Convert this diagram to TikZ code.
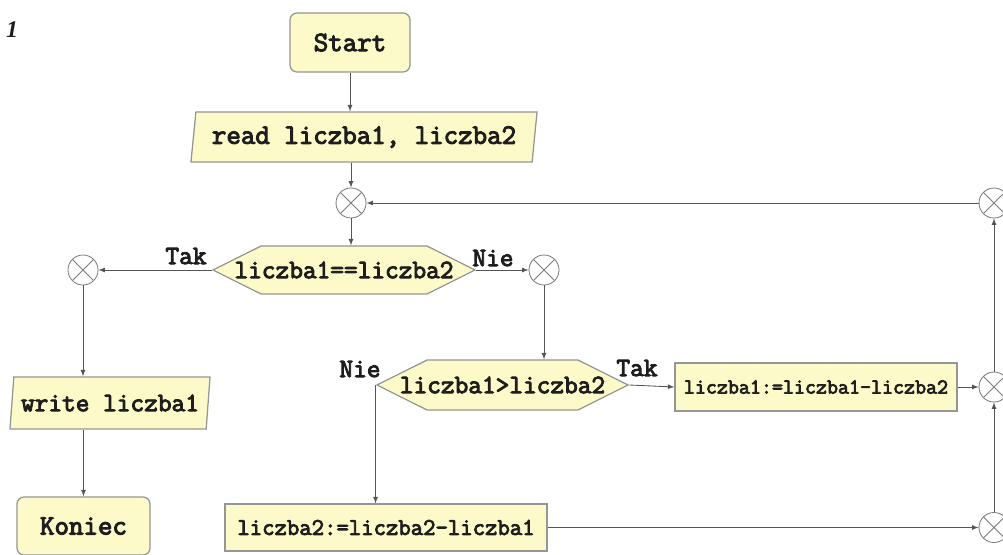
\documentclass[tikz,border=0pt]{standalone}
\usepackage{fontspec}
\setmainfont{Liberation Serif}
\setmonofont{Latin Modern Mono}[AutoFakeBold=3.5]
\usetikzlibrary{arrows, shapes.geometric, shapes.symbols}

\definecolor{boxfill}{RGB}{252,250,200}
\definecolor{boxline}{RGB}{150,150,150}
\definecolor{flowline}{RGB}{85,85,85}
\definecolor{jointline}{RGB}{125,125,125}
\definecolor{ink}{RGB}{30,30,30}

\newcommand{\wide}[1]{\makebox[0pt]{#1}}

\tikzset{
  box/.style={draw=boxline, fill=boxfill, line width=0.9pt, text=ink, inner sep=0pt},
  startstop/.style={box, rectangle, rounded corners=5pt, font=\ttfamily\bfseries\fontsize{20}{22}\selectfont},
  io/.style={box, trapezium, trapezium left angle=77, trapezium right angle=103, trapezium stretches body},
  decision/.style={box, signal, signal to=west and east, signal pointer angle=53, font=\ttfamily\bfseries\fontsize{18.9}{21}\selectfont},
  process/.style={box, rectangle},
  joint/.style={circle, draw=jointline, fill=white, line width=0.6pt, minimum size=0.75cm, inner sep=0pt,
    path picture={\draw[jointline, line width=0.6pt] (path picture bounding box.south west) -- (path picture bounding box.north east)
      (path picture bounding box.north west) -- (path picture bounding box.south east);}},
  branch/.style={text=ink, inner sep=0pt, font=\ttfamily\bfseries\fontsize{18.9}{21}\selectfont},
  flow/.style={draw=flowline, line width=0.6pt, ->}
}

\begin{document}
\begin{tikzpicture}[>=latex, x=0.025cm, y=0.025cm]

\useasboundingbox (0,0) rectangle (1003,554);

\node[text=ink, inner sep=0pt, font=\fontsize{17}{20}\selectfont] (nr) at (12,524) {\textbf{\textit{1}}};

% bloki
\node[startstop, minimum width=3cm, minimum height=1.475cm] (start) at (350,511.5) {Start};
\node[io, minimum width=8.65cm, minimum height=1.25cm, font=\ttfamily\bfseries\fontsize{20}{22}\selectfont] (read) at (364,417) {\wide{read liczba1, liczba2}};
\node[joint] (j1) at (351,351) {};
\node[decision, minimum width=6.55cm, minimum height=1.2cm] (cond1) at (344,284) {\wide{liczba1==liczba2}};
\node[joint] (jtak) at (83,284) {};
\node[joint] (jnie) at (544,284) {};
\node[io, minimum width=5cm, minimum height=1.3cm, font=\ttfamily\bfseries\fontsize{18.9}{21}\selectfont] (write) at (110,151) {\wide{write liczba1}};
\node[startstop, minimum width=3.325cm, minimum height=1.45cm] (koniec) at (83.5,28) {Koniec};
\node[decision, minimum width=6.275cm, minimum height=1.25cm] (cond2) at (502.5,169) {\wide{liczba1>liczba2}};
\node[process, minimum width=7.05cm, minimum height=1.2cm, font=\ttfamily\bfseries\fontsize{15.2}{17}\selectfont] (odejmij1) at (816,167) {liczba1:=liczba1-liczba2};
\node[process, minimum width=8.05cm, minimum height=1.175cm, font=\ttfamily\bfseries\fontsize{17.1}{19}\selectfont] (odejmij2) at (386,26.5) {liczba2:=liczba2-liczba1};
\node[joint] (jr1) at (994,351) {};
\node[joint] (jr2) at (994,167) {};
\node[joint] (jr3) at (994,26.5) {};

% etykiety
\node[branch] (tak1) at (186,298) {Tak};
\node[branch] (nie1) at (493,296) {Nie};
\node[branch] (tak2) at (637,186) {Tak};
\node[branch] (nie2) at (360,185) {Nie};

% polaczenia
\draw[flow] (start.south) -- (start.south |- read.north);
\draw[flow] (j1 |- read.south) -- (j1);
\draw[flow] (j1) -- (j1 |- cond1.north);
\draw[flow] (cond1.west) -- (jtak);
\draw[flow] (cond1.east) -- (jnie);
\draw[flow] (jtak) -- (jtak |- write.north);
\draw[flow] (koniec |- write.south) -- (koniec);
\draw[flow] (jnie) -- (jnie |- cond2.north);
\draw[flow] (cond2.east) -- (odejmij1.west);
\draw[flow] (cond2.west) -- (cond2.west |- odejmij2.north);
\draw[flow] (odejmij1) -- (jr2);
\draw[flow] (odejmij2) -- (jr3);
\draw[flow] (jr3) -- (jr2);
\draw[flow] (jr2) -- (jr1);
\draw[flow] (jr1) -- (j1);

\end{tikzpicture}
\end{document}
